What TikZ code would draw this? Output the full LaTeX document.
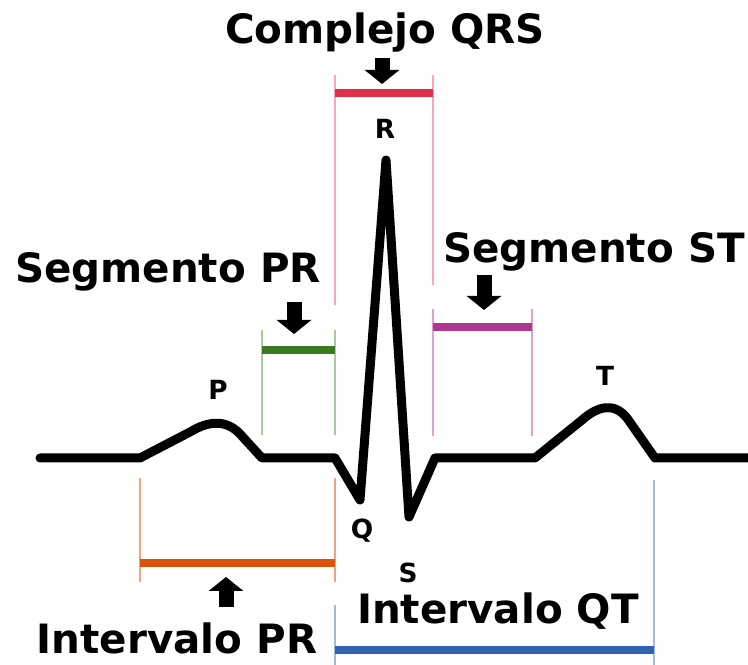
\documentclass[tikz,border=0pt]{standalone}
\usepackage{fontspec}
\setmainfont{DejaVu Sans}
\usetikzlibrary{arrows.meta}

\definecolor{rojoqrs}{HTML}{E0304A}
\definecolor{rosaqrs}{HTML}{F4A9B6}
\definecolor{verdepr}{HTML}{3A7A1E}
\definecolor{verdeclaro}{HTML}{A9CC99}
\definecolor{moradost}{HTML}{B0378F}
\definecolor{moradoclaro}{HTML}{DDA2D2}
\definecolor{naranjapr}{HTML}{D9540A}
\definecolor{naranjaclaro}{HTML}{F2A57C}
\definecolor{azulqt}{HTML}{2E63B0}
\definecolor{azulclaro}{HTML}{A3BBE2}

\tikzset{
	titulo/.style={font=\fontsize{23}{26}\selectfont\bfseries},
	letra/.style={font=\fontsize{15}{17}\selectfont\bfseries},
	barra/.style={line width=0.15cm},
	guia/.style={line width=0.05cm},
	flecha/.style={line width=0.3cm, -{Triangle[length=0.28cm, width=0.68cm]}},
}

\begin{document}
\begin{tikzpicture}[x=0.02cm, y=-0.02cm]
	\useasboundingbox (0,0) rectangle (748,665);

	% textos
	\node[titulo] (qrs) at (385,33) {Complejo QRS};
	\node[titulo] (segpr) at (168,272) {Segmento PR};
	\node[titulo] (segst) at (594,252) {Segmento ST};
	\node[titulo] (intpr) at (177,638) {Intervalo PR};
	\node[titulo] (intqt) at (498,611) {Intervalo QT};

	\node[letra] (p) at (218,390) {P};
	\node[letra] (q) at (362,531) {Q};
	\node[letra] (r) at (385,129) {R};
	\node[letra] (s) at (408,573) {S};
	\node[letra] (t) at (605,376) {T};

	% guias verticales
	\draw[guia, rosaqrs] (335,75) -- (335,305);
	\draw[guia, rosaqrs] (433,75) -- (433,285);
	\draw[guia, verdeclaro] (262,330) -- (262,435);
	\draw[guia, verdeclaro] (335,330) -- (335,435);
	\draw[guia, moradoclaro] (433,309) -- (433,436);
	\draw[guia, moradoclaro] (532,309) -- (532,436);
	\draw[guia, naranjaclaro] (140,478) -- (140,582);
	\draw[guia, naranjaclaro] (335,478) -- (335,582);
	\draw[guia, azulclaro] (335,605) -- (335,665);
	\draw[guia, azulclaro] (654,480) -- (654,665);

	% barras
	\draw[barra, rojoqrs] (335,93) -- (433,93);
	\draw[barra, verdepr] (262,350) -- (335,350);
	\draw[barra, moradost] (433,327) -- (532,327);
	\draw[barra, naranjapr] (140,563) -- (335,563);
	\draw[barra, azulqt] (335,650) -- (654,650);

	% flechas
	\coordinate (fqrs) at (382,84);
	\coordinate (fsegpr) at (294,334);
	\coordinate (fsegst) at (484,310);
	\coordinate (fintpr) at (226,577);
	\draw[flecha] (382,58) -- (fqrs);
	\draw[flecha] (294,302) -- (fsegpr);
	\draw[flecha] (484,275) -- (fsegst);
	\draw[flecha] (226,607) -- (fintpr);

	% trazo del ECG
	\draw[line width=0.18cm, line join=round, line cap=round]
		(40,458) -- (140,458) -- (190,432)
		.. controls (208,421) and (226,419) .. (240,434)
		-- (262,458) -- (335,458) -- (360,500) -- (386,160) -- (409,517)
		-- (435,458) -- (535,458) -- (582,420)
		.. controls (598,406) and (614,402) .. (627,418)
		-- (655,458) -- (748,458);
\end{tikzpicture}
\end{document}
